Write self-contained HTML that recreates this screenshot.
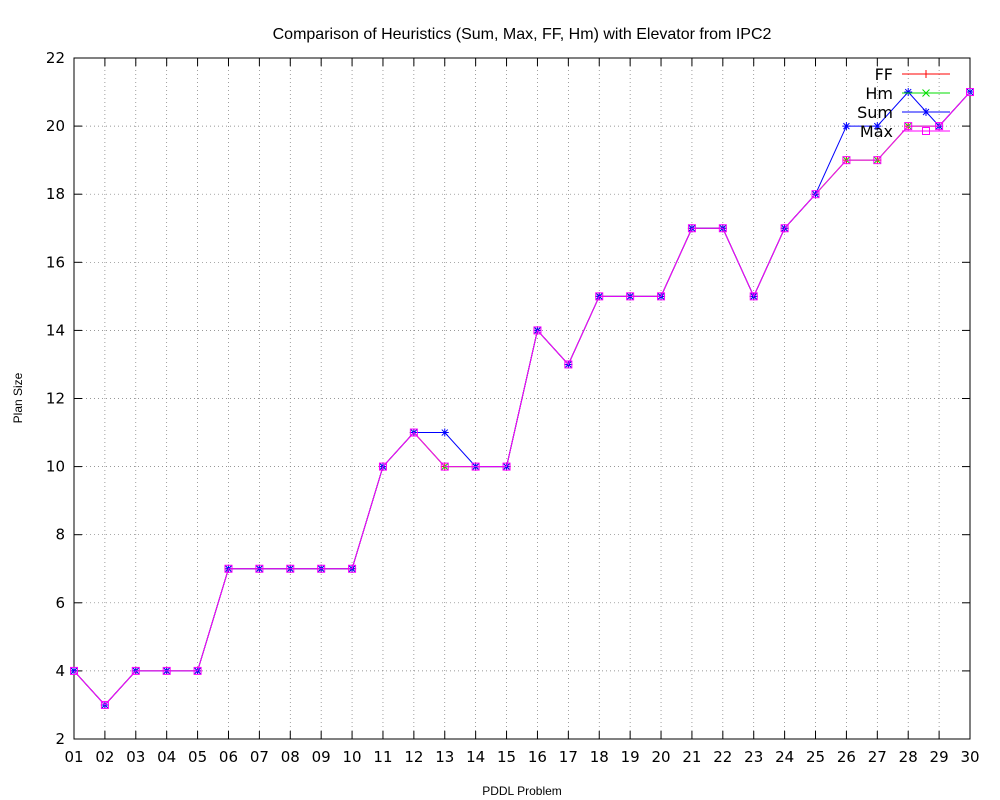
<!DOCTYPE html>
<html><head><meta charset="utf-8"><style>
body{margin:0;background:#fff}
svg{display:block;font-family:"Liberation Sans",sans-serif}
</style></head><body>
<svg id="chart" width="1000" height="800" xmlns="http://www.w3.org/2000/svg">
<text x="522" y="39" text-anchor="middle" font-size="16">Comparison of Heuristics (Sum, Max, FF, Hm) with Elevator from IPC2</text>
<text x="522" y="795" text-anchor="middle" font-size="12">PDDL Problem</text>
<text transform="translate(22,398) rotate(-90)" text-anchor="middle" font-size="12">Plan Size</text>
<g id="grid"></g><g id="axes"></g><g id="series"></g><g id="legend"></g>
</svg>
<script>
const categories=["01","02","03","04","05","06","07","08","09","10","11","12","13","14","15","16","17","18","19","20","21","22","23","24","25","26","27","28","29","30"];
const ffValues=[4,3,4,4,4,7,7,7,7,7,10,11,10,10,10,14,13,15,15,15,17,17,15,17,18,19,19,20,20,21];
const hmValues=[4,3,4,4,4,7,7,7,7,7,10,11,10,10,10,14,13,15,15,15,17,17,15,17,18,19,19,20,20,21];
const sumValues=[4,3,4,4,4,7,7,7,7,7,10,11,11,10,10,14,13,15,15,15,17,17,15,17,18,20,20,21,20,21];
const maxValues=[4,3,4,4,4,7,7,7,7,7,10,11,10,10,10,14,13,15,15,15,17,17,15,17,18,19,19,20,20,21];
const yTicks=[2,4,6,8,10,12,14,16,18,20,22];
const L=74,R=970,T=58,B=739;
const X=i=>L+i*(R-L)/(categories.length-1);
const Y=v=>B-(v-2)*(B-T)/20;
const NS="http://www.w3.org/2000/svg";
const TF='"DejaVu Sans","Liberation Sans",sans-serif';
function mk(t,a,p){const e=document.createElementNS(NS,t);for(const k in a)e.setAttribute(k,a[k]);p.appendChild(e);return e;}
const grid=document.getElementById('grid'),axes=document.getElementById('axes'),ser=document.getElementById('series'),leg=document.getElementById('legend');
yTicks.forEach(v=>{
 if(v>2&&v<22){const g=mk('line',{x1:L,x2:R,y1:Y(v),y2:Y(v),stroke:'#777','stroke-width':0.7,'stroke-dasharray':'1,3'},grid);
 
 }
 const t=mk('line',{x1:L,x2:L+8,y1:Y(v),y2:Y(v),stroke:'#000'},axes);
 
 
 const t2=mk('line',{x1:R-8,x2:R,y1:Y(v),y2:Y(v),stroke:'#000'},axes);
 
 
 const lb=mk('text',{x:L-9,y:Y(v)+5,'text-anchor':'end','font-size':15,'font-family':TF},axes);lb.textContent=v;
 
 
});
categories.forEach((c,i)=>{
 if(i>0&&i<categories.length-1){const g=mk('line',{x1:X(i),x2:X(i),y1:T,y2:B,stroke:'#777','stroke-width':0.7,'stroke-dasharray':'1,3'},grid);
 
 }
 const t=mk('line',{x1:X(i),x2:X(i),y1:B-8,y2:B,stroke:'#000'},axes);
 
 
 const t2=mk('line',{x1:X(i),x2:X(i),y1:T,y2:T+8,stroke:'#000'},axes);
 
 
 const lb=mk('text',{x:X(i),y:B+23,'text-anchor':'middle','font-size':15,'font-family':TF},axes);lb.textContent=c;
 
 
});
const frame=mk('rect',{x:L,y:T,width:R-L,height:B-T,fill:'none',stroke:'#000'},axes);


function marker(type,x,y,col,p){
 const g=mk('g',{stroke:col,fill:'none','stroke-width':1},p);
 if(type==='plus'){mk('path',{d:`M${x-4} ${y}H${x+4}M${x} ${y-4}V${y+4}`},g);}
 else if(type==='cross'){mk('path',{d:`M${x-3.5} ${y-3.5}L${x+3.5} ${y+3.5}M${x-3.5} ${y+3.5}L${x+3.5} ${y-3.5}`},g);}
 else if(type==='star'){mk('path',{d:`M${x-4} ${y}H${x+4}M${x} ${y-4}V${y+4}M${x-3} ${y-3}L${x+3} ${y+3}M${x-3} ${y+3}L${x+3} ${y-3}`},g);}
 else {mk('rect',{x:x-3.5,y:y-3.5,width:7,height:7},g);}
 return g;
}
const series=[["FF",ffValues,"#ff0000","plus"],["Hm",hmValues,"#00dd00","cross"],["Sum",sumValues,"#0000ff","star"],["Max",maxValues,"#ff00ff","square"]];
series.forEach((s,k)=>{
 const g=mk('g',{},ser);
 
 
 const pl=mk('polyline',{points:s[1].map((v,i)=>X(i)+','+Y(v)).join(' '),fill:'none',stroke:s[2],'stroke-width':1},g);
 
 
 s[1].forEach((v,i)=>{const m=marker(s[3],X(i),Y(v),s[2],g);
 
 });
 const ly=74+k*19;
 const le=mk('g',{},leg);
 
 
 const tx=mk('text',{x:893,y:ly+6,'text-anchor':'end','font-size':16,'font-family':TF},le);tx.textContent=s[0];
 mk('line',{x1:902,x2:950,y1:ly,y2:ly,stroke:s[2]},le);
 marker(s[3],926,ly,s[2],le);
});
</script>
</body></html>
